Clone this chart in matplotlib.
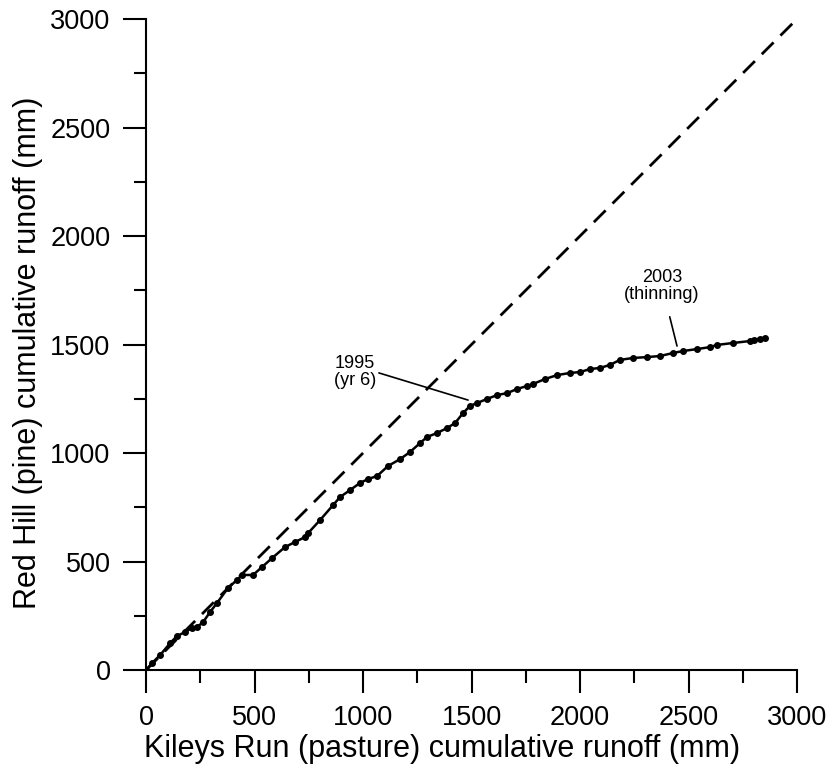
import matplotlib.pyplot as plt
from matplotlib.ticker import MultipleLocator

plt.rcParams['font.family'] = ['Liberation Sans', 'DejaVu Sans']

# cumulative runoff (mm)
kileys = [0, 28, 65, 111, 143, 180, 212, 235, 263, 295, 327, 378, 419, 442,
          493, 535, 581, 641, 687, 733, 747, 802, 862, 894, 940, 986, 1023,
          1065, 1115, 1171, 1217, 1263, 1295, 1341, 1387, 1424, 1461, 1493,
          1525, 1571, 1618, 1664, 1710, 1756, 1783, 1839, 1894, 1954, 2000,
          2046, 2092, 2138, 2184, 2244, 2309, 2369, 2429, 2475, 2539, 2599,
          2631, 2705, 2783, 2800, 2830, 2853]
redhill = [0, 32, 69, 124, 157, 175, 194, 198, 221, 267, 309, 378, 415, 438,
           438, 475, 516, 567, 590, 613, 631, 691, 760, 797, 829, 862, 880,
           894, 940, 972, 1005, 1046, 1074, 1092, 1115, 1138, 1184, 1217,
           1230, 1249, 1267, 1276, 1295, 1309, 1318, 1341, 1359, 1369, 1373,
           1387, 1392, 1406, 1429, 1438, 1442, 1447, 1461, 1470, 1479, 1488,
           1498, 1507, 1516, 1522, 1527, 1532]

one_to_one = [0, 3000]

fig = plt.figure(figsize=(8.26, 7.69), dpi=100)
ax = fig.add_axes([0.1768, 0.1287, 0.7881, 0.8466])

ax.plot(one_to_one, one_to_one, color='black', lw=2, linestyle=(0, (6, 3.5)))
ax.plot(kileys, redhill, color='black', lw=1.8, marker='o', ms=4)

# annotations
ax.annotate('1995\n(yr 6)', xy=(1484, 1244), xytext=(963, 1373),
            ha='center', va='center', fontsize=13, linespacing=1.05,
            arrowprops=dict(arrowstyle='-', color='black', lw=1.2,
                            shrinkA=0, shrinkB=0, relpos=(1.0, 0.5)))
ax.annotate('2003\n(thinning)', xy=(2447, 1493), xytext=(2378, 1770),
            ha='center', va='center', fontsize=13, linespacing=1.05,
            arrowprops=dict(arrowstyle='-', color='black', lw=1.2,
                            shrinkA=8, shrinkB=0))

ax.set_xlim(0, 3000)
ax.set_ylim(0, 3000)
ax.xaxis.set_major_locator(MultipleLocator(500))
ax.yaxis.set_major_locator(MultipleLocator(500))
ax.xaxis.set_minor_locator(MultipleLocator(250))
ax.yaxis.set_minor_locator(MultipleLocator(250))
ax.tick_params(which='major', length=16.5, width=1.5, labelsize=19.5, pad=9)
ax.tick_params(which='minor', length=9, width=1.5)
for s in ['top', 'right']:
    ax.spines[s].set_visible(False)
for s in ['left', 'bottom']:
    ax.spines[s].set_linewidth(1.5)

ax.set_xlabel('Kileys Run (pasture) cumulative runoff (mm)', fontsize=22)
ax.set_ylabel('Red Hill (pine) cumulative runoff (mm)', fontsize=22)
ax.xaxis.set_label_coords(0.455, -0.098)
ax.yaxis.set_label_coords(-0.158, 0.487)

fig.savefig('out.png', dpi=100)
